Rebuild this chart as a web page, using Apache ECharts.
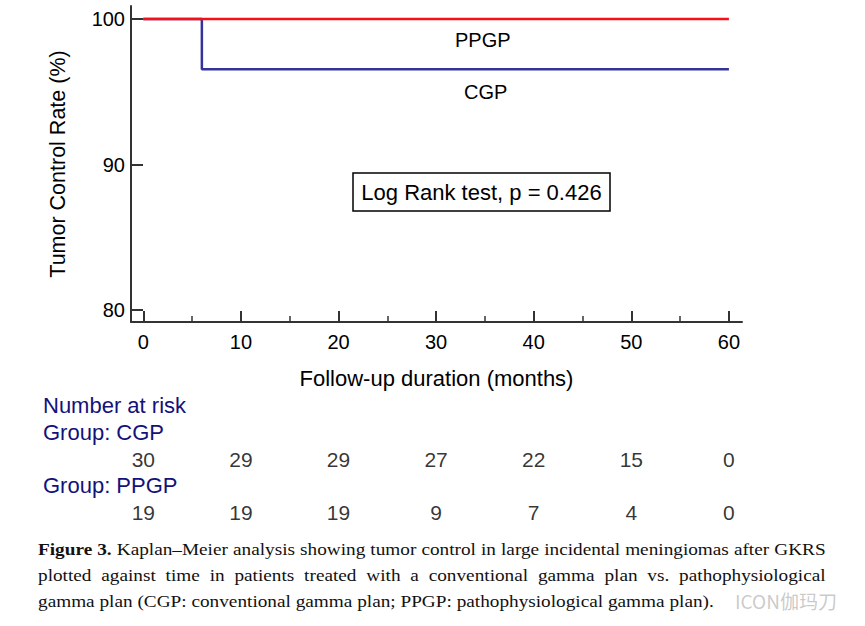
<!DOCTYPE html>
<html>
<head>
<meta charset="utf-8">
<script src="https://cdn.jsdelivr.net/npm/echarts@6/dist/echarts.min.js"></script>
<style>
  html, body { margin: 0; padding: 0; background: #fff; }
  #chart { position: absolute; left: 0; top: 0; width: 865px; height: 626px; }
  #caption { position: absolute; left: 38px; top: 536px; width: 716px;
    transform: scaleX(1.1); transform-origin: 0 0;
    font-family: "Liberation Serif", "DejaVu Serif", serif; font-size: 17.5px; line-height: 26px; color: #111; }
  #caption .ln { white-space: nowrap; display: block; }
  #caption .j { text-align: justify; text-align-last: justify; }
  #wm { position: absolute; left: 735px; top: 590px; font-family: "Noto Sans CJK SC", sans-serif;
    font-size: 19px; line-height: 22px; color: rgba(150,150,150,0.5); }
</style>
</head>
<body>
<div id="chart"></div>
<div id="caption">
  <span class="ln j"><b>Figure 3.</b> Kaplan–Meier analysis showing tumor control in large incidental meningiomas after GKRS</span>
  <span class="ln j">plotted against time in patients treated with a conventional gamma plan vs. pathophysiological</span>
  <span class="ln">gamma plan (CGP: conventional gamma plan; PPGP: pathophysiological gamma plan).</span>
</div>
<div id="wm">ICON伽玛刀</div>
<script>
// ---- data ----
const xTicks = [0, 10, 20, 30, 40, 50, 60];
const xMinorTicks = [5, 15, 25, 35, 45, 55];
const yTicks = [80, 90, 100];
const cgpTime = [0, 6, 60];
const cgpRate = [100, 96.55, 96.55];
const ppgpTime = [0, 60];
const ppgpRate = [100, 100];
const riskTimes = [0, 10, 20, 30, 40, 50, 60];
const riskGroups = ['CGP', 'PPGP'];
const cgpRisk = [30, 29, 29, 27, 22, 15, 0];
const ppgpRisk = [19, 19, 19, 9, 7, 4, 0];

const FONT = '"Liberation Sans", Arial, sans-serif';
const AXC = '#333333';
const NAVY = '#12127a';

const chart = echarts.init(document.getElementById('chart'), null, { renderer: 'svg' });

const xMin = -1.26, xMax = 61.34;
const baseX = {
  type: 'value', min: xMin, max: xMax, gridIndex: 0,
  splitLine: { show: false }
};

const option = {
  animation: false,
  grid: [
    { left: 131, top: 6, width: 611, height: 316 },
    { left: 131, top: 432.5, width: 611, height: 106 }
  ],
  xAxis: [
    Object.assign({}, baseX, {
      position: 'bottom',
      axisLine: { show: true, onZero: false, lineStyle: { color: AXC, width: 2 } },
      axisTick: { show: true, inside: true, length: 11, customValues: xTicks, lineStyle: { color: AXC, width: 2 } },
      axisLabel: { show: true, customValues: xTicks, margin: 10, fontSize: 20, fontFamily: FONT, color: '#000' },
      name: 'Follow-up duration (months)', nameLocation: 'middle', nameGap: 45,
      nameTextStyle: { fontSize: 22, fontFamily: FONT, color: '#000' }
    }),
    Object.assign({}, baseX, {
      position: 'bottom',
      axisLine: { show: false, onZero: false },
      axisTick: { show: true, inside: true, length: 6, customValues: xMinorTicks, lineStyle: { color: AXC, width: 1.5 } },
      axisLabel: { show: false }
    }),
    { type: 'value', gridIndex: 1, min: xMin, max: xMax, show: false }
  ],
  yAxis: [
    {
      type: 'value', gridIndex: 0, min: 79.17, max: 100.9,
      splitLine: { show: false },
      axisLine: { show: true, onZero: false, lineStyle: { color: AXC, width: 2 } },
      axisTick: { show: true, inside: true, length: 12, customValues: yTicks, lineStyle: { color: AXC, width: 2 } },
      axisLabel: { show: true, customValues: yTicks, margin: 6, fontSize: 20, fontFamily: FONT, color: '#000' },
      name: 'Tumor Control Rate (%)', nameLocation: 'middle', nameGap: 62, nameRotate: 90,
      nameTextStyle: { fontSize: 21.5, fontFamily: FONT, color: '#000' }
    },
    { type: 'category', gridIndex: 1, data: riskGroups, inverse: true, show: false }
  ],
  graphic: [
    { type: 'text', left: 455, top: 30, style: { text: 'PPGP', fontSize: 20, fontFamily: FONT, fill: '#000' } },
    { type: 'text', left: 464, top: 82, style: { text: 'CGP', fontSize: 20, fontFamily: FONT, fill: '#000' } },
    { type: 'rect', shape: { x: 353, y: 173, width: 257, height: 38 },
      style: { fill: '#fff', stroke: '#000', lineWidth: 1.5 } },
    { type: 'text', x: 481.5, y: 192, style: { text: 'Log Rank test, p = 0.426', fontSize: 22, fontFamily: FONT,
      fill: '#000', align: 'center', verticalAlign: 'middle' } },
    { type: 'text', x: 43, y: 405, style: { text: 'Number at risk', fontSize: 22, fontFamily: FONT, fill: NAVY, verticalAlign: 'middle' } },
    { type: 'text', x: 43, y: 432, style: { text: 'Group: CGP', fontSize: 22, fontFamily: FONT, fill: NAVY, verticalAlign: 'middle' } },
    { type: 'text', x: 43, y: 485, style: { text: 'Group: PPGP', fontSize: 22, fontFamily: FONT, fill: NAVY, verticalAlign: 'middle' } }
  ],
  series: [
    {
      name: 'CGP', type: 'line', xAxisIndex: 0, yAxisIndex: 0, step: 'end',
      data: cgpTime.map((t, i) => [t, cgpRate[i]]),
      symbol: 'none', lineStyle: { color: '#33339c', width: 2.5 }, z: 3
    },
    {
      name: 'PPGP', type: 'line', xAxisIndex: 0, yAxisIndex: 0, step: 'end',
      data: ppgpTime.map((t, i) => [t, ppgpRate[i]]),
      symbol: 'none', lineStyle: { color: '#f51018', width: 2.5 }, z: 4
    },
    {
      name: 'risk', type: 'scatter', xAxisIndex: 2, yAxisIndex: 1, symbolSize: 0,
      data: riskTimes.map((t, i) => [t, 'CGP', cgpRisk[i]]).concat(riskTimes.map((t, i) => [t, 'PPGP', ppgpRisk[i]])),
      label: { show: true, position: 'inside', formatter: p => String(p.value[2]), fontSize: 21, fontFamily: FONT, color: '#000' },
      silent: true
    }
  ]
};
chart.setOption(option);
</script>
</body>
</html>
